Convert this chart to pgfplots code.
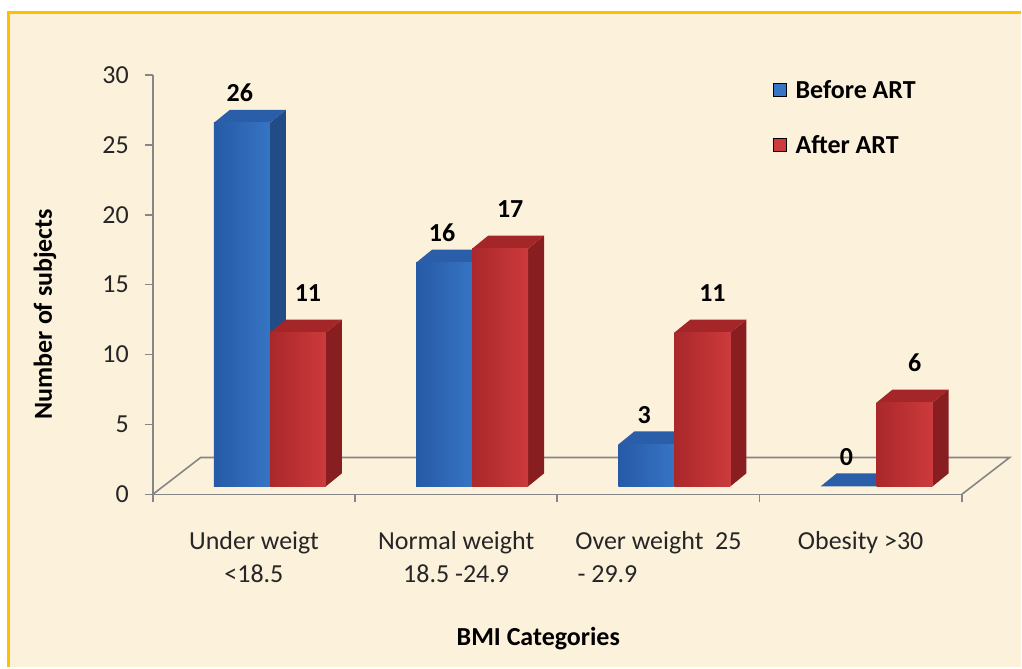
\documentclass[border=0pt]{standalone}
\usepackage{pgfplots}
\pgfplotsset{compat=1.18}
\usepackage{pgfplotstable}
\usepackage{fontspec}
\setmainfont{Carlito}

\definecolor{bgc}{RGB}{252,241,219}
\definecolor{gold}{RGB}{255,192,0}
\definecolor{axgray}{RGB}{134,134,134}
\definecolor{bfront}{RGB}{54,116,196}
\definecolor{bfrontL}{RGB}{38,90,166}
\definecolor{bside}{RGB}{33,76,134}
\definecolor{btop}{RGB}{42,94,168}
\definecolor{rfront}{RGB}{204,58,60}
\definecolor{rfrontL}{RGB}{170,40,42}
\definecolor{rside}{RGB}{136,30,32}
\definecolor{rtop}{RGB}{164,38,40}

\pgfplotstableread{
idx before after
0 26 11
1 16 17
2 3 11
3 0 6
}\bmidata

\newcommand\bw{0.2765}
\newcommand\ddx{0.079}
\newcommand\ddy{0.93}
\newcommand\ybase{0.57}

\newcommand\threedbar[5]{%
 \pgfmathsetmacro\xa{#1}%
 \pgfmathsetmacro\xb{#1+\bw}%
 \pgfmathsetmacro\xc{#1+\bw+\ddx}%
 \pgfmathsetmacro\xd{#1+\ddx}%
 \pgfmathsetmacro\ya{\ybase}%
 \pgfmathsetmacro\yt{\ybase+#2}%
 \pgfmathsetmacro\yab{\ybase+\ddy}%
 \pgfmathsetmacro\ytb{\ybase+#2+\ddy}%
 \edef\cmd{%
  \noexpand\addplot[forget plot, draw=none, fill=#4] coordinates {(\xb,\ya) (\xc,\yab) (\xc,\ytb) (\xb,\yt)};%
  \noexpand\addplot[forget plot, draw=none, fill=#5] coordinates {(\xa,\yt) (\xb,\yt) (\xc,\ytb) (\xd,\ytb)};%
 }\cmd
 \ifdim #2pt>0pt
 \edef\cmd{%
  \noexpand\addplot[forget plot, draw=none, left color=#3L, right color=#3] coordinates {(\xa,\ya) (\xb,\ya) (\xb,\yt) (\xa,\yt)};%
 }\cmd
 \fi
}

\begin{document}
\begin{tikzpicture}
\fill[white] (0pt,0pt) rectangle (511pt,334pt);
\fill[bgc] (4.25pt,0pt) rectangle (511pt,327.75pt);
\draw[gold, line width=1.3pt] (4.25pt,0pt) -- (4.25pt,327.75pt) -- (511pt,327.75pt);
\begin{axis}[
  at={(76.5pt,86.5pt)}, anchor=south west,
  scale only axis, width=405pt, height=210pt,
  xmin=-0.5, xmax=3.5, ymin=0, ymax=30,
  clip=false,
  axis x line*=bottom, axis y line*=left,
  axis line style={axgray, line width=0.8pt},
  tick style={axgray, line width=0.8pt},
  tick align=outside,
  major tick length=4pt,
  /pgf/number format/assume math mode=true,
  ytick={0,5,...,30},
  yticklabel style={font=\fontsize{13}{15}\selectfont, text=black!85, xshift=-4.5pt},
  xtick={-0.5,0.5,1.5,2.5,3.5},
  xticklabels={},
  extra x ticks={0,1,2,3},
  extra x tick labels={{Under weigt\\<18.5},{Normal weight\\18.5 -24.9},{Over weight~~25\\- 29.9\makebox[51pt]{}},{Obesity >30}},
  extra x tick style={tick style={draw=none}, tick label style={align=center, font=\fontsize{13}{16.5}\selectfont, text=black!85, anchor=north, yshift=-11pt}},
  ylabel={Number of subjects},
  ylabel style={at={(axis description cs:-0.1333,0.43)}, anchor=center, font=\bfseries\fontsize{13}{15}\selectfont},
  xlabel={BMI Categories},
  xlabel style={at={(axis description cs:0.4765,-0.345)}, anchor=center, font=\bfseries\fontsize{13}{15}\selectfont},
  legend image code/.code={\fill[#1] (0pt,-3pt) rectangle (6.5pt,3.5pt);},
  legend style={draw=none, fill=none, at={(axis description cs:0.766,0.998)}, anchor=north west,
    font=\bfseries\fontsize{13}{15}\selectfont, row sep=13pt, inner sep=0pt,
    nodes={inner xsep=4.5pt}},
  legend cell align=left,
]
% floor
\draw[axgray, line width=0.8pt] (axis cs:-0.5,0) -- (axis cs:-0.263,2.64) -- (axis cs:3.737,2.64) -- (axis cs:3.5,0);
% bars
\pgfplotsforeachungrouped \i in {0,1,2,3}{%
  \pgfplotstablegetelem{\i}{before}\of\bmidata \let\valB\pgfplotsretval
  \pgfplotstablegetelem{\i}{after}\of\bmidata \let\valA\pgfplotsretval
  \pgfmathsetmacro\lb{\i-0.198}%
  \pgfmathsetmacro\lr{\i+0.079}%
  \threedbar{\lb}{\valB}{bfront}{bside}{btop}%
  \threedbar{\lr}{\valA}{rfront}{rside}{rtop}%
}
% value labels
\addplot[forget plot, only marks, mark=*, mark size=0pt, mark options={draw=none, fill=none},
  point meta=y, nodes near coords,
  nodes near coords style={anchor=base, yshift=14.5pt, font=\bfseries\fontsize{13}{15}\selectfont, inner sep=0pt}]
  table[x expr=\thisrow{idx}-0.07, y=before] {\bmidata};
\addplot[forget plot, only marks, mark=*, mark size=0pt, mark options={draw=none, fill=none},
  point meta=y, nodes near coords,
  nodes near coords style={anchor=base, yshift=19.5pt, font=\bfseries\fontsize{13}{15}\selectfont, inner sep=0pt}]
  table[x expr=\thisrow{idx}+0.267, y=after] {\bmidata};
\addlegendimage{fill=bfront}
\addlegendentry{Before ART}
\addlegendimage{fill=rfront}
\addlegendentry{After ART}
\end{axis}
\end{tikzpicture}
\end{document}
